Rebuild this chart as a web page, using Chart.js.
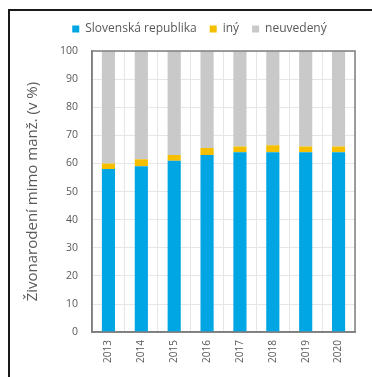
<!DOCTYPE html>
<html>
<head>
<meta charset="utf-8">
<script src="https://cdn.jsdelivr.net/npm/chart.js@4"></script>
<style>
    html, body { margin: 0; padding: 0; background: #fff; }
    #frame {
        position: absolute; left: 8px; top: 9px; width: 364px; height: 368px;
        border-top: 2px solid #1a1a1a; border-left: 2px solid #1a1a1a;
    }
    #wrap { position: absolute; left: 0; top: 0; width: 372px; height: 377px; }
</style>
</head>
<body>
<div id="frame"></div>
<div id="wrap"><canvas id="birthsChart" width="372" height="377"></canvas></div>
<script>
const years = ['2013', '2014', '2015', '2016', '2017', '2018', '2019', '2020'];
const slovakia = [58, 59, 61, 63, 64, 64, 64, 64];
const other = [2, 2.5, 2, 2.5, 2, 2.5, 2, 2];
const unknown = [40, 38.5, 37, 34.5, 34, 33.5, 34, 34];

const textColor = '#595959';
const fontFamily = "'Open Sans', 'DejaVu Sans', sans-serif";

// rámik okolo plochy grafu (hore a vpravo chýba v osiach)
const plotBorder = {
    id: 'plotBorder',
    afterDatasetsDraw(chart) {
        const { ctx, chartArea: a } = chart;
        ctx.save();
        ctx.strokeStyle = '#7f7f7f';
        ctx.lineWidth = 1.5;
        ctx.strokeRect(a.left, a.top, a.right - a.left, a.bottom - a.top);
        ctx.restore();
    }
};

// medzera pod legendou a posun legendy doprava nad plochu grafu
const legendPlacement = {
    id: 'legendPlacement',
    beforeInit(chart) {
        const fit = chart.legend.fit;
        chart.legend.fit = function () {
            fit.bind(chart.legend)();
            this.height += 6;
        };
    },
    afterLayout(chart) {
        chart.legend.left += 10;
        chart.legend.right += 10;
    }
};

const ctx = document.getElementById('birthsChart').getContext('2d');
new Chart(ctx, {
    type: 'bar',
    data: {
        labels: years,
        datasets: [
            { label: 'Slovenská republika', data: slovakia, backgroundColor: '#00a5e3' },
            { label: 'iný', data: other, backgroundColor: '#f5bf00' },
            { label: 'neuvedený', data: unknown, backgroundColor: '#c9c9c9' }
        ]
    },
    options: {
        responsive: false,
        animation: false,
        layout: { padding: { left: 24, right: 17, top: 10, bottom: 6 } },
        datasets: {
            bar: { barPercentage: 0.4, categoryPercentage: 1 }
        },
        scales: {
            x: {
                stacked: true,
                grid: { color: '#e6e6e6', offset: true, drawTicks: false },
                border: { color: '#7f7f7f', width: 1.5 },
                ticks: {
                    color: textColor,
                    font: { family: fontFamily, size: 10 },
                    minRotation: 90,
                    maxRotation: 90,
                    padding: 8
                }
            },
            y: {
                stacked: true,
                min: 0,
                max: 100,
                grid: { color: '#e6e6e6', drawTicks: false },
                border: { color: '#7f7f7f', width: 1.5 },
                ticks: {
                    stepSize: 10,
                    color: textColor,
                    font: { family: fontFamily, size: 10.5 },
                    padding: 14
                },
                title: {
                    display: true,
                    text: 'Živonarodení mimo manž. (v %)',
                    color: textColor,
                    font: { family: fontFamily, size: 15 },
                    padding: { top: 0, bottom: 4 }
                }
            }
        },
        plugins: {
            legend: {
                position: 'top',
                labels: {
                    color: textColor,
                    font: { family: fontFamily, size: 12 },
                    boxWidth: 7,
                    boxHeight: 7,
                    padding: 13
                }
            },
            tooltip: { enabled: false }
        }
    },
    plugins: [plotBorder, legendPlacement]
});
</script>
</body>
</html>
